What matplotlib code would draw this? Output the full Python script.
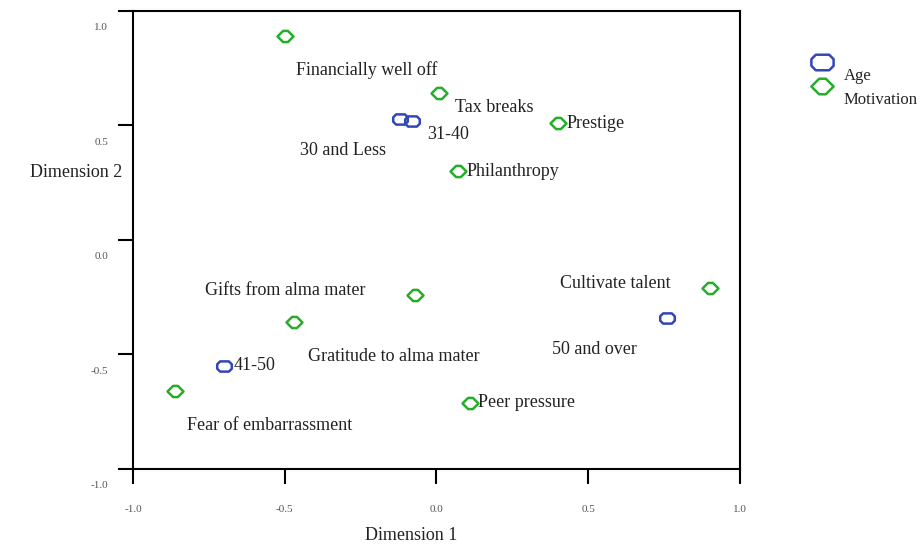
import numpy as np
import matplotlib
matplotlib.use('Agg')
import matplotlib.pyplot as plt
from matplotlib.path import Path
from matplotlib.lines import Line2D
from matplotlib.transforms import ScaledTranslation

plt.rcParams['font.family'] = ['Liberation Serif', 'DejaVu Serif']

# Motivation points (dimension 1, dimension 2)
mot_x = [-0.50, 0.01, 0.40, 0.07, -0.07, -0.47, -0.86, 0.11, 0.90]
mot_y = [0.89, 0.64, 0.51, 0.30, -0.24, -0.36, -0.66, -0.71, -0.21]

# Age points
age_x = [-0.12, -0.08, -0.70, 0.76]
age_y = [0.53, 0.52, -0.55, -0.34]

# point labels and where they sit
lab_text = ["Financially well off", "Tax breaks", "Prestige", "31-40", "30 and Less",
            "Philanthropy", "Cultivate talent", "Gifts from alma mater", "50 and over",
            "Gratitude to alma mater", "41-50", "Peer pressure", "Fear of embarrassment"]
lab_x = [-0.463, 0.06, 0.427, -0.03, -0.45, 0.10, 0.407, -0.763, 0.38, -0.424, -0.67, 0.137, -0.822]
lab_y = [0.74, 0.58, 0.51, 0.46, 0.39, 0.30, -0.19, -0.22, -0.48, -0.51, -0.55, -0.71, -0.81]

ticks = [-1.0, -0.5, 0.0, 0.5, 1.0]

blue = '#3346b8'
green = '#26ad2c'
fs = 13

mot_marker = Path([(-1, 0), (-0.3, 0.7), (0.3, 0.7), (1, 0), (0.3, -0.7), (-0.3, -0.7), (-1, 0)],
                  closed=True)
age_marker = Path([(-1, 0.3), (-0.6, 0.7), (0.6, 0.7), (1, 0.3), (1, -0.3), (0.6, -0.7),
                   (-0.6, -0.7), (-1, -0.3), (-1, 0.3)], closed=True)

fig = plt.figure(figsize=(9.21, 5.48), dpi=100)
ax = fig.add_axes([0.1444, 0.1442, 0.659, 0.836])

ax.plot(age_x, age_y, ls='none', marker=age_marker, ms=10.5, mfc='none', mec=blue, mew=1.8)
ax.plot(mot_x, mot_y, ls='none', marker=mot_marker, ms=11.5, mfc='none', mec=green, mew=1.8)

for t, x, y in zip(lab_text, lab_x, lab_y):
    ax.text(x, y, t, fontsize=fs, color='#222222', ha='left', va='center')

ax.set_xlim(-1, 1)
ax.set_ylim(-1, 1)
ax.set_xticks(ticks)
ax.set_yticks(ticks)
ax.set_xticklabels(['%.1f' % t for t in ticks])
ax.set_yticklabels(['%.1f' % t for t in ticks])
for s in ax.spines.values():
    s.set_linewidth(1.5)
ax.tick_params(direction='out', length=11, width=1.5, labelsize=8, labelcolor='#555555')
ax.tick_params(axis='x', pad=15)
ax.tick_params(axis='y', pad=7)
# y tick labels sit below their ticks
for lbl in ax.get_yticklabels():
    lbl.set_transform(lbl.get_transform() + ScaledTranslation(0, -0.16, fig.dpi_scale_trans))

ax.set_xlabel('Dimension 1', fontsize=fs, color='#222222', va='center')
ax.xaxis.set_label_coords(0.458, -0.146)
ax.set_ylabel('Dimension 2', fontsize=fs, color='#222222', rotation=0, ha='right', va='center')
ax.yaxis.set_label_coords(-0.018, 0.648)

handles = [Line2D([], [], ls='none', marker=age_marker, ms=16, mfc='none', mec=blue, mew=1.8),
           Line2D([], [], ls='none', marker=mot_marker, ms=16, mfc='none', mec=green, mew=1.8)]
leg = fig.legend(handles, ['Age', 'Motivation'], loc='upper left', bbox_to_anchor=(0.875, 0.91),
                 frameon=False, fontsize=12, handlelength=1.1, handletextpad=0.75,
                 labelspacing=0.5, borderaxespad=0)
for t in leg.get_texts():
    t.set_color('#222222')
    t.set_transform(t.get_transform() + ScaledTranslation(0, -0.12, fig.dpi_scale_trans))

plt.savefig('out.png', dpi=100)
